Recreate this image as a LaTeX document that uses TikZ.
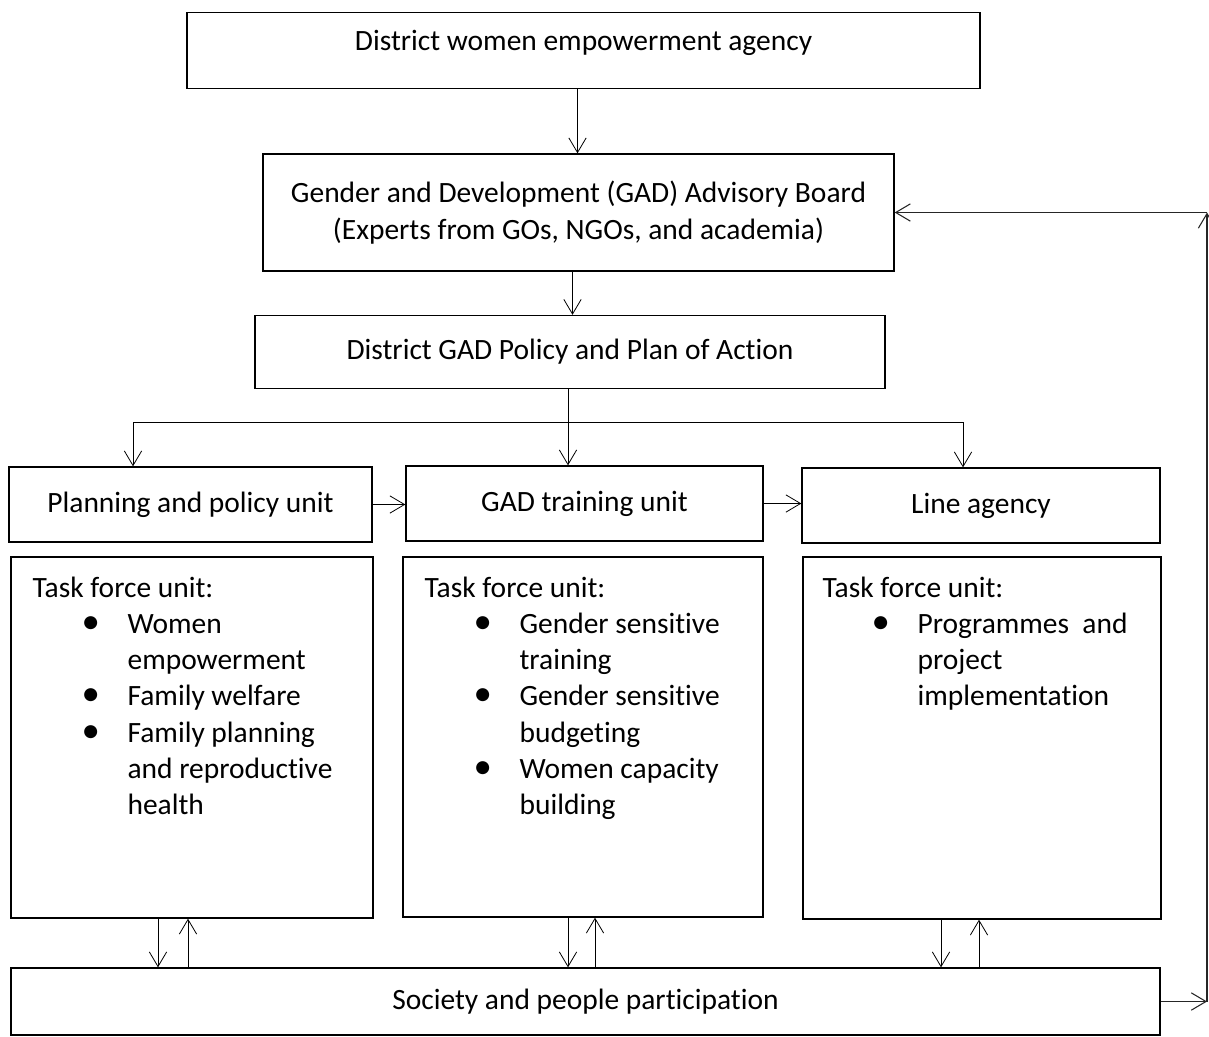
\documentclass[tikz,border=0pt]{standalone}
\usepackage{fontspec}
\setmainfont{Carlito}[Ligatures=CommonOff]
\usetikzlibrary{arrows.meta,positioning}

\tikzset{
  box/.style={draw, line width=1pt, inner sep=0pt, align=center},
  arr/.style={-{Straight Barb[length=11pt,width=13pt]}, line width=0.6pt},
  tasktext/.style={anchor=north west, inner sep=0pt, align=left}
}
\newcommand{\tfitem}[1]{\hspace*{36.75pt}\makebox[34.5pt][l]{\smash{\scalebox{1.25}{•}}}#1}
\newcommand{\tfcont}[1]{\hspace*{71.25pt}#1}

\begin{document}
\begin{tikzpicture}[x=0.75pt,y=-0.75pt,font=\fontsize{22.1pt}{27.2pt}\selectfont]
    \useasboundingbox (0,0) rectangle (1209,1036);
    % top of the chart
    \node[box, minimum width=594.75pt, minimum height=57pt, text height=12pt, text depth=12pt] (agency) at (583.5,50.5) {District women empowerment agency};
    \node[box, minimum width=473.25pt, minimum height=87.75pt] (board) at (578.5,212.5) {Gender and Development (GAD) Advisory Board\\(Experts from GOs, NGOs, and academia)};
    \node[box, minimum width=472.5pt, minimum height=54.75pt] (policy) at (570,352) {District GAD Policy and Plan of Action};
    % units
    \node[box, minimum width=272.25pt, minimum height=56.25pt] (planning) at (190.5,504.5) {Planning and policy unit};
    \node[box, minimum width=267.75pt, minimum height=56.25pt] (training) at (584.5,503.5) {GAD training unit};
    \node[box, minimum width=268.5pt, minimum height=56.25pt] (line) at (981,505.5) {Line agency};
    % task force boxes
    \node[box, minimum width=271.5pt, minimum height=270.75pt] (taskA) at (192,737.5) {};
    \node[box, minimum width=270pt, minimum height=270pt] (taskB) at (583,737) {};
    \node[box, minimum width=268.5pt, minimum height=271.5pt] (taskC) at (982,738) {};
    \node[tasktext] (taskAtxt) at ([xshift=16.5pt,yshift=-15pt]taskA.north west) {Task force unit:\\
        \tfitem{Women}\\ \tfcont{empowerment}\\
        \tfitem{Family welfare}\\
        \tfitem{Family planning}\\ \tfcont{and reproductive}\\ \tfcont{health}};
    \node[tasktext] (taskBtxt) at ([xshift=16.5pt,yshift=-15pt]taskB.north west) {Task force unit:\\
        \tfitem{Gender sensitive}\\ \tfcont{training}\\
        \tfitem{Gender sensitive}\\ \tfcont{budgeting}\\
        \tfitem{Women capacity}\\ \tfcont{building}};
    \node[tasktext] (taskCtxt) at ([xshift=15pt,yshift=-15pt]taskC.north west) {Task force unit:\\
        \tfitem{Programmes\ \ and}\\ \tfcont{project}\\ \tfcont{implementation}};
    \node[box, minimum width=861.75pt, minimum height=50.25pt] (society) at (585.5,1001.5) {Society and people participation};

    % connectors
    \draw[arr] ([xshift=-4.5pt]agency.south) -- ([xshift=-4.5pt]agency.south |- board.north);
    \draw[arr] ([xshift=-4.5pt]board.south) -- ([xshift=-4.5pt]board.south |- policy.north);
    \coordinate (lbend) at (133,422);
    \coordinate (rbend) at (963,422);
    \draw[line width=0.6pt] (lbend) -- (rbend);
    \draw[arr] ([xshift=-1.5pt]policy.south) -- ([xshift=-1.5pt]policy.south |- training.north);
    \draw[arr] (lbend) -- (lbend |- planning.north);
    \draw[arr] (rbend) -- (rbend |- line.north);
    \draw[arr] (planning.east) -- (planning.east -| training.west);
    \draw[arr] (training.east) -- (training.east -| line.west);
    % to and from society
    \draw[arr] ([xshift=-25.5pt]taskA.south) -- ([xshift=-25.5pt]taskA.south |- society.north);
    \draw[arr] ([xshift=-3pt]taskA.south |- society.north) -- ([xshift=-3pt]taskA.south);
    \draw[arr] ([xshift=-11.25pt]taskB.south |- taskB.south) -- ([xshift=-11.25pt]taskB.south |- society.north);
    \draw[arr] ([xshift=9pt]taskB.south |- society.north) -- ([xshift=9pt]taskB.south);
    \draw[arr] ([xshift=-30.75pt]taskC.south) -- ([xshift=-30.75pt]taskC.south |- society.north);
    \draw[arr] ([xshift=-2.25pt]taskC.south |- society.north) -- ([xshift=-2.25pt]taskC.south);
    % feedback loop
    \coordinate (rail) at (1207,0);
    \draw[arr, black!85, line width=0.8pt] (society.east) -- (society.east -| rail);
    \draw[arr, black!85, line width=0.8pt] (society.east -| rail) -- (board.east -| rail);
    \draw[arr, black!85, line width=0.8pt] (board.east -| rail) -- (board.east);
\end{tikzpicture}
\end{document}
